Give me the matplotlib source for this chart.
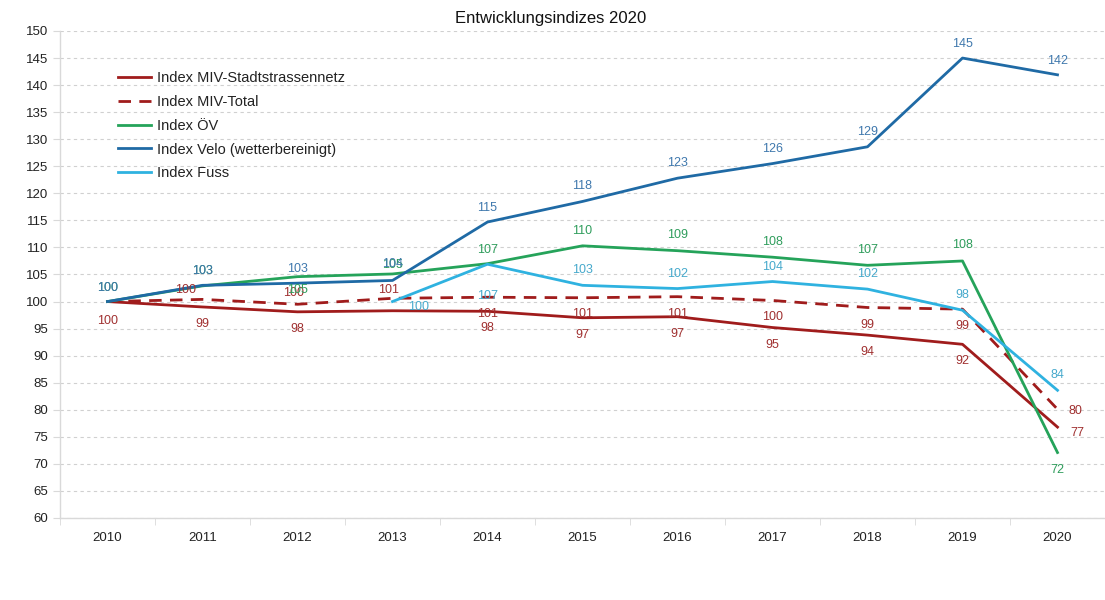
import numpy as np
import matplotlib.pyplot as plt

plt.rcParams["font.family"] = ["Liberation Sans", "DejaVu Sans"]

# ── data ──────────────────────────────────────────────────────────────────────
years = [2010, 2011, 2012, 2013, 2014, 2015, 2016, 2017, 2018, 2019, 2020]

miv_stadt = [100, 99.0, 98.1, 98.3, 98.2, 97.0, 97.2, 95.2, 93.8, 92.1, 76.8]
miv_total = [100, 100.4, 99.5, 100.6, 100.8, 100.7, 100.9, 100.2, 98.9, 98.6, 80.1]
oev = [100, 102.9, 104.6, 105.1, 107.0, 110.3, 109.4, 108.2, 106.7, 107.5, 72.1]
velo = [100, 103.0, 103.4, 103.9, 114.7, 118.5, 122.8, 125.5, 128.6, 145.0, 141.9]
fuss = [None, None, None, 100.0, 106.9, 103.0, 102.4, 103.7, 102.3, 98.4, 83.6]

yticks = list(range(60, 151, 5))
title = "Entwicklungsindizes 2020"

# label offsets in pixels (dx, dy; dy positive = above)
off_stadt = [(0, -19), (0, -17), (0, -17), None, (0, -17), (0, -17), (0, -17),
             (0, -17), (0, -17), (0, -17), (20, -6)]
off_total = [None, (-17, 9), (-4, 11), (-4, 8), (0, -17), (0, -16), (0, -17),
             (0, -17), (0, -17), (0, -17), (18, -2)]
off_oev = [(0, 14), (0, 15), (0, -13), (0, 9), (0, 14), (0, 15), (0, 16),
           (0, 15), (0, 15), (0, 16), (0, -17)]
off_velo = [(0, 14), (0, 14), (0, 14), (0, 16), (0, 14), (0, 15), (0, 15),
            (0, 15), (0, 15), (0, 14), (0, 14)]
off_fuss = [None, None, None, (26, -5), (0, -32), (0, 15), (0, 15), (0, 15),
            (0, 15), (0, 15), (0, 15)]

series = [
    ("Index MIV-Stadtstrassennetz", miv_stadt, "#a01c1c", "#a03030", "-", off_stadt),
    ("Index MIV-Total", miv_total, "#a01c1c", "#a03030", (0, (4.5, 3)), off_total),
    ("Index ÖV", oev, "#25a35a", "#2f9d5c", "-", off_oev),
    ("Index Velo (wetterbereinigt)", velo, "#1f6aa5", "#3f78ad", "-", off_velo),
    ("Index Fuss", fuss, "#2fb2e0", "#46a9cc", "-", off_fuss),
]

# ── plot ──────────────────────────────────────────────────────────────────────
fig = plt.figure(figsize=(11.05, 6.0), dpi=100)
ax = fig.add_axes([60 / 1105, 1 - 518 / 600, 1045 / 1105, 487 / 600])

for name, vals, col, lcol, ls, offs in series:
    xs = [x for x, v in zip(years, vals) if v is not None]
    ys = [v for v in vals if v is not None]
    ax.plot(xs, ys, color=col, lw=2.0, ls=ls, label=name, zorder=3)
    for x, v, o in zip(years, vals, offs):
        if v is None or o is None:
            continue
        ax.annotate(f"{v:.0f}", (x, v), xytext=(o[0] * 0.72, o[1] * 0.72),
                    textcoords="offset points", ha="center", va="center",
                    fontsize=9, color=lcol, zorder=4)

ax.set_xlim(2009.5, 2020.5)
ax.set_ylim(60, 150)
ax.set_yticks(yticks)
ax.set_xticks(years)
ax.set_xticks(np.arange(2009.5, 2020.6, 1), minor=True)
ax.tick_params(axis="x", which="major", length=0, pad=10, labelsize=9.5, colors="#222222")
ax.tick_params(axis="x", which="minor", length=5, color="#d9d9d9")
ax.tick_params(axis="y", length=5, color="#d9d9d9", labelsize=9.5, labelcolor="#222222")
ax.grid(axis="y", color="#d0d0d0", ls=(0, (3, 3)), lw=0.8)
ax.set_axisbelow(True)
for s in ["top", "right"]:
    ax.spines[s].set_visible(False)
for s in ["left", "bottom"]:
    ax.spines[s].set_color("#d9d9d9")
    ax.spines[s].set_linewidth(1.0)

leg = ax.legend(loc="upper left", bbox_to_anchor=(52 / 1045, 1 - 34 / 487),
                frameon=False, fontsize=10.5, handlelength=2.3, handletextpad=0.4,
                labelspacing=0.68, borderaxespad=0)
for t in leg.get_texts():
    t.set_color("#222222")

fig.text(551 / 1105, 1 - 19 / 600, title, ha="center", va="center",
         fontsize=12, color="#111111")

fig.savefig("out.png", dpi=100)
